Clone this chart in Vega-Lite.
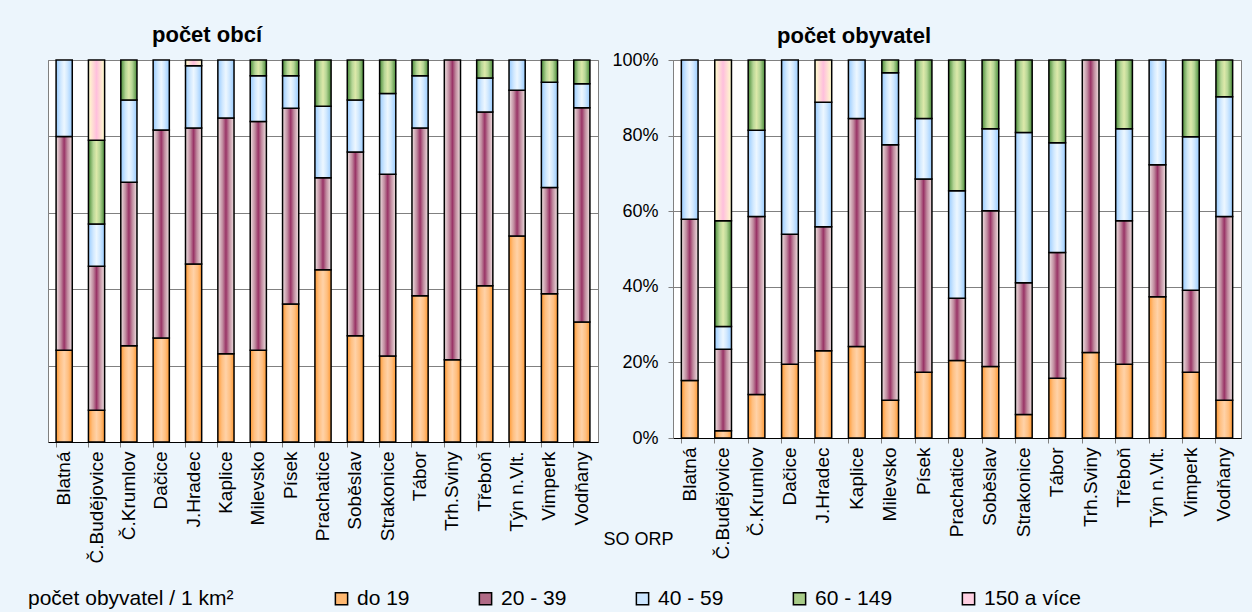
{
  "$schema": "https://vega.github.io/schema/vega-lite/v6.json",
  "background": "#ECF5FC",
  "padding": {"left": 10, "top": 23, "right": 10, "bottom": 4},
  "config": {
    "font": "Liberation Sans",
    "view": {"stroke": "#808080", "fill": "white"},
    "axis": {"labelColor": "black", "titleColor": "black", "gridColor": "#808080", "domainColor": "#808080", "tickColor": "#808080"},
    "title": {"fontSize": 22, "fontWeight": "bold", "color": "black", "anchor": "start", "frame": "group", "dx": 104, "offset": 12},
    "bar": {"stroke": "black", "strokeWidth": 1.5},
    "legend": {"orient": "none", "direction": "horizontal", "legendX": -20, "legendY": 528,
             "titleOrient": "left", "titleAlign": "left", "titleAnchor": "start", "titleFontSize": 21, "titleFontWeight": "normal", "titleLimit": 400, "titlePadding": 97,
             "labelFontSize": 21, "labelColor": "black", "titleColor": "black", "symbolType": "square", "symbolSize": 150,
             "symbolStrokeColor": "black", "symbolStrokeWidth": 1.5, "columnPadding": 65, "labelOffset": 5}
  },
  "data": {"values": [
    {"p":"a","o":"Blatná","c":"do 19","k":1,"v":24.0},{"p":"a","o":"Blatná","c":"20 - 39","k":2,"v":56.0},{"p":"a","o":"Blatná","c":"40 - 59","k":3,"v":20.0},
    {"p":"a","o":"Č.Budějovice","c":"do 19","k":1,"v":8.3},{"p":"a","o":"Č.Budějovice","c":"20 - 39","k":2,"v":37.7},{"p":"a","o":"Č.Budějovice","c":"40 - 59","k":3,"v":11.1},{"p":"a","o":"Č.Budějovice","c":"60 - 149","k":4,"v":21.9},{"p":"a","o":"Č.Budějovice","c":"150 a více","k":5,"v":21.0},
    {"p":"a","o":"Č.Krumlov","c":"do 19","k":1,"v":25.2},{"p":"a","o":"Č.Krumlov","c":"20 - 39","k":2,"v":42.8},{"p":"a","o":"Č.Krumlov","c":"40 - 59","k":3,"v":21.5},{"p":"a","o":"Č.Krumlov","c":"60 - 149","k":4,"v":10.5},
    {"p":"a","o":"Dačice","c":"do 19","k":1,"v":27.2},{"p":"a","o":"Dačice","c":"20 - 39","k":2,"v":54.5},{"p":"a","o":"Dačice","c":"40 - 59","k":3,"v":18.3},
    {"p":"a","o":"J.Hradec","c":"do 19","k":1,"v":46.6},{"p":"a","o":"J.Hradec","c":"20 - 39","k":2,"v":35.6},{"p":"a","o":"J.Hradec","c":"40 - 59","k":3,"v":16.3},{"p":"a","o":"J.Hradec","c":"150 a více","k":5,"v":1.5},
    {"p":"a","o":"Kaplice","c":"do 19","k":1,"v":23.1},{"p":"a","o":"Kaplice","c":"20 - 39","k":2,"v":61.7},{"p":"a","o":"Kaplice","c":"40 - 59","k":3,"v":15.2},
    {"p":"a","o":"Milevsko","c":"do 19","k":1,"v":24.0},{"p":"a","o":"Milevsko","c":"20 - 39","k":2,"v":59.9},{"p":"a","o":"Milevsko","c":"40 - 59","k":3,"v":12.0},{"p":"a","o":"Milevsko","c":"60 - 149","k":4,"v":4.1},
    {"p":"a","o":"Písek","c":"do 19","k":1,"v":36.1},{"p":"a","o":"Písek","c":"20 - 39","k":2,"v":51.3},{"p":"a","o":"Písek","c":"40 - 59","k":3,"v":8.5},{"p":"a","o":"Písek","c":"60 - 149","k":4,"v":4.1},
    {"p":"a","o":"Prachatice","c":"do 19","k":1,"v":45.1},{"p":"a","o":"Prachatice","c":"20 - 39","k":2,"v":24.1},{"p":"a","o":"Prachatice","c":"40 - 59","k":3,"v":18.7},{"p":"a","o":"Prachatice","c":"60 - 149","k":4,"v":12.1},
    {"p":"a","o":"Soběslav","c":"do 19","k":1,"v":27.8},{"p":"a","o":"Soběslav","c":"20 - 39","k":2,"v":48.1},{"p":"a","o":"Soběslav","c":"40 - 59","k":3,"v":13.6},{"p":"a","o":"Soběslav","c":"60 - 149","k":4,"v":10.5},
    {"p":"a","o":"Strakonice","c":"do 19","k":1,"v":22.5},{"p":"a","o":"Strakonice","c":"20 - 39","k":2,"v":47.6},{"p":"a","o":"Strakonice","c":"40 - 59","k":3,"v":21.1},{"p":"a","o":"Strakonice","c":"60 - 149","k":4,"v":8.8},
    {"p":"a","o":"Tábor","c":"do 19","k":1,"v":38.3},{"p":"a","o":"Tábor","c":"20 - 39","k":2,"v":43.9},{"p":"a","o":"Tábor","c":"40 - 59","k":3,"v":13.7},{"p":"a","o":"Tábor","c":"60 - 149","k":4,"v":4.1},
    {"p":"a","o":"Trh.Sviny","c":"do 19","k":1,"v":21.5},{"p":"a","o":"Trh.Sviny","c":"20 - 39","k":2,"v":78.5},
    {"p":"a","o":"Třeboň","c":"do 19","k":1,"v":40.9},{"p":"a","o":"Třeboň","c":"20 - 39","k":2,"v":45.5},{"p":"a","o":"Třeboň","c":"40 - 59","k":3,"v":8.9},{"p":"a","o":"Třeboň","c":"60 - 149","k":4,"v":4.7},
    {"p":"a","o":"Týn n.Vlt.","c":"do 19","k":1,"v":53.9},{"p":"a","o":"Týn n.Vlt.","c":"20 - 39","k":2,"v":38.2},{"p":"a","o":"Týn n.Vlt.","c":"40 - 59","k":3,"v":7.9},
    {"p":"a","o":"Vimperk","c":"do 19","k":1,"v":38.8},{"p":"a","o":"Vimperk","c":"20 - 39","k":2,"v":27.8},{"p":"a","o":"Vimperk","c":"40 - 59","k":3,"v":27.6},{"p":"a","o":"Vimperk","c":"60 - 149","k":4,"v":5.8},
    {"p":"a","o":"Vodňany","c":"do 19","k":1,"v":31.4},{"p":"a","o":"Vodňany","c":"20 - 39","k":2,"v":56.1},{"p":"a","o":"Vodňany","c":"40 - 59","k":3,"v":6.3},{"p":"a","o":"Vodňany","c":"60 - 149","k":4,"v":6.2},

    {"p":"b","o":"Blatná","c":"do 19","k":1,"v":15.2},{"p":"b","o":"Blatná","c":"20 - 39","k":2,"v":42.7},{"p":"b","o":"Blatná","c":"40 - 59","k":3,"v":42.1},
    {"p":"b","o":"Č.Budějovice","c":"do 19","k":1,"v":1.9},{"p":"b","o":"Č.Budějovice","c":"20 - 39","k":2,"v":21.6},{"p":"b","o":"Č.Budějovice","c":"40 - 59","k":3,"v":6.0},{"p":"b","o":"Č.Budějovice","c":"60 - 149","k":4,"v":28.0},{"p":"b","o":"Č.Budějovice","c":"150 a více","k":5,"v":42.5},
    {"p":"b","o":"Č.Krumlov","c":"do 19","k":1,"v":11.5},{"p":"b","o":"Č.Krumlov","c":"20 - 39","k":2,"v":47.1},{"p":"b","o":"Č.Krumlov","c":"40 - 59","k":3,"v":22.8},{"p":"b","o":"Č.Krumlov","c":"60 - 149","k":4,"v":18.6},
    {"p":"b","o":"Dačice","c":"do 19","k":1,"v":19.5},{"p":"b","o":"Dačice","c":"20 - 39","k":2,"v":34.4},{"p":"b","o":"Dačice","c":"40 - 59","k":3,"v":46.1},
    {"p":"b","o":"J.Hradec","c":"do 19","k":1,"v":23.1},{"p":"b","o":"J.Hradec","c":"20 - 39","k":2,"v":32.8},{"p":"b","o":"J.Hradec","c":"40 - 59","k":3,"v":32.9},{"p":"b","o":"J.Hradec","c":"150 a více","k":5,"v":11.2},
    {"p":"b","o":"Kaplice","c":"do 19","k":1,"v":24.2},{"p":"b","o":"Kaplice","c":"20 - 39","k":2,"v":60.3},{"p":"b","o":"Kaplice","c":"40 - 59","k":3,"v":15.5},
    {"p":"b","o":"Milevsko","c":"do 19","k":1,"v":10.0},{"p":"b","o":"Milevsko","c":"20 - 39","k":2,"v":67.6},{"p":"b","o":"Milevsko","c":"40 - 59","k":3,"v":19.0},{"p":"b","o":"Milevsko","c":"60 - 149","k":4,"v":3.4},
    {"p":"b","o":"Písek","c":"do 19","k":1,"v":17.4},{"p":"b","o":"Písek","c":"20 - 39","k":2,"v":51.1},{"p":"b","o":"Písek","c":"40 - 59","k":3,"v":16.0},{"p":"b","o":"Písek","c":"60 - 149","k":4,"v":15.5},
    {"p":"b","o":"Prachatice","c":"do 19","k":1,"v":20.5},{"p":"b","o":"Prachatice","c":"20 - 39","k":2,"v":16.5},{"p":"b","o":"Prachatice","c":"40 - 59","k":3,"v":28.4},{"p":"b","o":"Prachatice","c":"60 - 149","k":4,"v":34.6},
    {"p":"b","o":"Soběslav","c":"do 19","k":1,"v":18.9},{"p":"b","o":"Soběslav","c":"20 - 39","k":2,"v":41.2},{"p":"b","o":"Soběslav","c":"40 - 59","k":3,"v":21.7},{"p":"b","o":"Soběslav","c":"60 - 149","k":4,"v":18.2},
    {"p":"b","o":"Strakonice","c":"do 19","k":1,"v":6.2},{"p":"b","o":"Strakonice","c":"20 - 39","k":2,"v":34.9},{"p":"b","o":"Strakonice","c":"40 - 59","k":3,"v":39.7},{"p":"b","o":"Strakonice","c":"60 - 149","k":4,"v":19.2},
    {"p":"b","o":"Tábor","c":"do 19","k":1,"v":15.8},{"p":"b","o":"Tábor","c":"20 - 39","k":2,"v":33.3},{"p":"b","o":"Tábor","c":"40 - 59","k":3,"v":29.0},{"p":"b","o":"Tábor","c":"60 - 149","k":4,"v":21.9},
    {"p":"b","o":"Trh.Sviny","c":"do 19","k":1,"v":22.6},{"p":"b","o":"Trh.Sviny","c":"20 - 39","k":2,"v":77.4},
    {"p":"b","o":"Třeboň","c":"do 19","k":1,"v":19.5},{"p":"b","o":"Třeboň","c":"20 - 39","k":2,"v":38.0},{"p":"b","o":"Třeboň","c":"40 - 59","k":3,"v":24.3},{"p":"b","o":"Třeboň","c":"60 - 149","k":4,"v":18.2},
    {"p":"b","o":"Týn n.Vlt.","c":"do 19","k":1,"v":37.4},{"p":"b","o":"Týn n.Vlt.","c":"20 - 39","k":2,"v":34.9},{"p":"b","o":"Týn n.Vlt.","c":"40 - 59","k":3,"v":27.7},
    {"p":"b","o":"Vimperk","c":"do 19","k":1,"v":17.4},{"p":"b","o":"Vimperk","c":"20 - 39","k":2,"v":21.7},{"p":"b","o":"Vimperk","c":"40 - 59","k":3,"v":40.6},{"p":"b","o":"Vimperk","c":"60 - 149","k":4,"v":20.3},
    {"p":"b","o":"Vodňany","c":"do 19","k":1,"v":10.0},{"p":"b","o":"Vodňany","c":"20 - 39","k":2,"v":48.6},{"p":"b","o":"Vodňany","c":"40 - 59","k":3,"v":31.7},{"p":"b","o":"Vodňany","c":"60 - 149","k":4,"v":9.7}
  ]},
  "spacing": 3,
  "hconcat": [
    {
      "width": 550, "height": 382,
      "title": {"text": "počet obcí"},
      "transform": [
        {"filter": "datum.p == 'a'"},
        {"stack": "v", "groupby": ["o"], "offset": "normalize", "sort": [{"field": "k", "order": "ascending"}], "as": ["v0", "v1"]}
      ],
      "encoding": {
        "x": {"field": "o", "type": "nominal", "sort": ["Blatná","Č.Budějovice","Č.Krumlov","Dačice","J.Hradec","Kaplice","Milevsko","Písek","Prachatice","Soběslav","Strakonice","Tábor","Trh.Sviny","Třeboň","Týn n.Vlt.","Vimperk","Vodňany"],
              "scale": {"paddingInner": 0.5, "paddingOuter": 0.25},
              "axis": {"title": null, "labelAngle": -90, "labelFontSize": 19, "labelPadding": 4, "tickSize": 5, "bandPosition": 0, "domainColor": "black", "grid": false}},
        "y": {"field": "v0", "type": "quantitative", "scale": {"domain": [0, 1], "nice": false},
              "axis": {"title": null, "labels": false, "ticks": false, "values": [0, 0.2, 0.4, 0.6, 0.8, 1], "minExtent": 37, "maxExtent": 37}},
        "y2": {"field": "v1"}
      },
      "layer": [
        {"mark": {"type": "bar", "strokeWidth": 0},
         "encoding": {"color": {"field": "c", "type": "nominal",
           "scale": {"domain": ["do 19", "20 - 39", "40 - 59", "60 - 149", "150 a více"], "range": ["#FFB870", "#B06A86", "#CCE6FF", "#A8CC88", "#FFD0E2"]},
           "legend": {"title": "počet obyvatel / 1 km²"}}}},
        {"transform": [{"filter": "datum.c == 'do 19'"}],
         "mark": {"type": "bar", "fill": {"gradient": "linear", "x1": 0, "y1": 0, "x2": 1, "y2": 0, "stops": [{"offset": 0, "color": "#FF9933"}, {"offset": 0.25, "color": "#FFBF80"}, {"offset": 0.5, "color": "#FFD2A8"}, {"offset": 0.75, "color": "#FFBF80"}, {"offset": 1, "color": "#FF9933"}]}}},
        {"transform": [{"filter": "datum.c == '20 - 39'"}],
         "mark": {"type": "bar", "fill": {"gradient": "linear", "x1": 0, "y1": 0, "x2": 1, "y2": 0, "stops": [{"offset": 0, "color": "#F0E2E2"}, {"offset": 0.3, "color": "#C08A9E"}, {"offset": 0.5, "color": "#993366"}, {"offset": 0.7, "color": "#C08A9E"}, {"offset": 1, "color": "#F0E2E2"}]}}},
        {"transform": [{"filter": "datum.c == '40 - 59'"}],
         "mark": {"type": "bar", "fill": {"gradient": "linear", "x1": 0, "y1": 0, "x2": 1, "y2": 0, "stops": [{"offset": 0, "color": "#99CCFF"}, {"offset": 0.3, "color": "#D2E9FF"}, {"offset": 0.5, "color": "#EDF7FF"}, {"offset": 0.7, "color": "#D2E9FF"}, {"offset": 1, "color": "#99CCFF"}]}}},
        {"transform": [{"filter": "datum.c == '60 - 149'"}],
         "mark": {"type": "bar", "fill": {"gradient": "linear", "x1": 0, "y1": 0, "x2": 1, "y2": 0, "stops": [{"offset": 0, "color": "#4A8C3A"}, {"offset": 0.3, "color": "#B6D696"}, {"offset": 0.5, "color": "#DDE9AA"}, {"offset": 0.7, "color": "#B6D696"}, {"offset": 1, "color": "#4A8C3A"}]}}},
        {"transform": [{"filter": "datum.c == '150 a více'"}],
         "mark": {"type": "bar", "fill": {"gradient": "linear", "x1": 0, "y1": 0, "x2": 1, "y2": 0, "stops": [{"offset": 0, "color": "#FFFFCC"}, {"offset": 0.5, "color": "#FFBFDD"}, {"offset": 1, "color": "#FFFFCC"}]}}}
      ]
    },
    {
      "width": 568, "height": 378,
      "title": {"text": "počet obyvatel", "offset": 3},
      "transform": [
        {"filter": "datum.p == 'b'"},
        {"stack": "v", "groupby": ["o"], "offset": "normalize", "sort": [{"field": "k", "order": "ascending"}], "as": ["v0", "v1"]}
      ],
      "encoding": {
        "x": {"field": "o", "type": "nominal", "sort": ["Blatná","Č.Budějovice","Č.Krumlov","Dačice","J.Hradec","Kaplice","Milevsko","Písek","Prachatice","Soběslav","Strakonice","Tábor","Trh.Sviny","Třeboň","Týn n.Vlt.","Vimperk","Vodňany"],
              "scale": {"paddingInner": 0.5, "paddingOuter": 0.25},
              "axis": {"title": "SO ORP", "titleX": -70, "titleY": 101, "titleAlign": "left", "titleBaseline": "middle", "titleFontSize": 18, "titleFontWeight": "normal",
                       "labelAngle": -90, "labelFontSize": 19, "labelPadding": 4, "tickSize": 5, "bandPosition": 0, "domainColor": "black", "grid": false}},
        "y": {"field": "v0", "type": "quantitative", "scale": {"domain": [0, 1], "nice": false},
              "axis": {"title": null, "format": ".0%", "labelFontSize": 18, "tickSize": 5, "labelPadding": 10, "values": [0, 0.2, 0.4, 0.6, 0.8, 1], "minExtent": 60, "maxExtent": 60}},
        "y2": {"field": "v1"}
      },
      "layer": [
        {"mark": {"type": "bar", "strokeWidth": 0},
         "encoding": {"color": {"field": "c", "type": "nominal",
           "scale": {"domain": ["do 19", "20 - 39", "40 - 59", "60 - 149", "150 a více"], "range": ["#FFB870", "#B06A86", "#CCE6FF", "#A8CC88", "#FFD0E2"]},
           "legend": {"title": "počet obyvatel / 1 km²"}}}},
        {"transform": [{"filter": "datum.c == 'do 19'"}],
         "mark": {"type": "bar", "fill": {"gradient": "linear", "x1": 0, "y1": 0, "x2": 1, "y2": 0, "stops": [{"offset": 0, "color": "#FF9933"}, {"offset": 0.25, "color": "#FFBF80"}, {"offset": 0.5, "color": "#FFD2A8"}, {"offset": 0.75, "color": "#FFBF80"}, {"offset": 1, "color": "#FF9933"}]}}},
        {"transform": [{"filter": "datum.c == '20 - 39'"}],
         "mark": {"type": "bar", "fill": {"gradient": "linear", "x1": 0, "y1": 0, "x2": 1, "y2": 0, "stops": [{"offset": 0, "color": "#F0E2E2"}, {"offset": 0.3, "color": "#C08A9E"}, {"offset": 0.5, "color": "#993366"}, {"offset": 0.7, "color": "#C08A9E"}, {"offset": 1, "color": "#F0E2E2"}]}}},
        {"transform": [{"filter": "datum.c == '40 - 59'"}],
         "mark": {"type": "bar", "fill": {"gradient": "linear", "x1": 0, "y1": 0, "x2": 1, "y2": 0, "stops": [{"offset": 0, "color": "#99CCFF"}, {"offset": 0.3, "color": "#D2E9FF"}, {"offset": 0.5, "color": "#EDF7FF"}, {"offset": 0.7, "color": "#D2E9FF"}, {"offset": 1, "color": "#99CCFF"}]}}},
        {"transform": [{"filter": "datum.c == '60 - 149'"}],
         "mark": {"type": "bar", "fill": {"gradient": "linear", "x1": 0, "y1": 0, "x2": 1, "y2": 0, "stops": [{"offset": 0, "color": "#4A8C3A"}, {"offset": 0.3, "color": "#B6D696"}, {"offset": 0.5, "color": "#DDE9AA"}, {"offset": 0.7, "color": "#B6D696"}, {"offset": 1, "color": "#4A8C3A"}]}}},
        {"transform": [{"filter": "datum.c == '150 a více'"}],
         "mark": {"type": "bar", "fill": {"gradient": "linear", "x1": 0, "y1": 0, "x2": 1, "y2": 0, "stops": [{"offset": 0, "color": "#FFFFCC"}, {"offset": 0.5, "color": "#FFBFDD"}, {"offset": 1, "color": "#FFFFCC"}]}}}
      ]
    }
  ]
}
